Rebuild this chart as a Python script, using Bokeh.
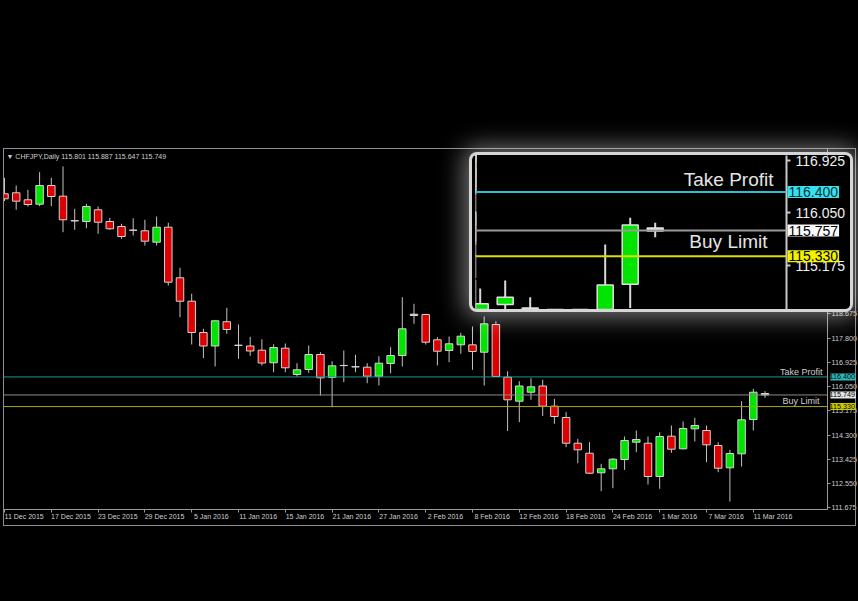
from bokeh.plotting import figure
from bokeh.models import (Range1d, FixedTicker, Span, Label, LinearAxis, Div,
                          ColumnDataSource, PrintfTickFormatter)
from bokeh.layouts import column
from bokeh.embed import file_html
from bokeh.resources import INLINE

# ---------------- data ----------------
symbol = "CHFJPY,Daily"
opens = [123.011, 123.047, 122.794, 122.635, 123.310, 122.924, 122.040, 122.011, 122.433, 122.011,
         121.830, 121.700, 121.675, 121.263, 121.805, 119.978, 119.133, 118.004, 117.516, 118.393,
         117.545, 117.516, 117.365, 116.910, 117.437, 116.487, 116.668, 117.209, 116.379, 116.815,
         116.768, 116.751, 116.426, 116.884, 117.173, 118.664, 118.653, 117.740, 117.354, 117.559,
         117.559, 117.292, 118.292, 116.390, 115.523, 115.848, 116.072, 115.343, 114.935, 114.007,
         113.646, 112.939, 113.083, 113.419, 114.043, 114.007, 112.805, 114.260, 113.805, 114.527,
         114.466, 113.924, 113.119, 113.624, 114.863, 115.801]
highs = [123.588, 123.310, 123.155, 123.791, 123.588, 123.996, 122.469, 122.650, 122.552, 122.144,
         121.928, 122.130, 122.072, 122.191, 121.964, 120.339, 119.401, 118.137, 118.437, 118.895,
         118.292, 117.848, 117.758, 117.578, 117.606, 116.895, 117.534, 117.292, 116.967, 117.354,
         117.198, 116.895, 117.148, 117.473, 119.278, 119.040, 118.679, 117.834, 117.859, 117.993,
         118.220, 118.581, 118.411, 116.606, 116.245, 116.354, 116.296, 115.610, 115.126, 114.166,
         114.043, 113.263, 113.470, 114.249, 114.466, 114.249, 114.404, 114.646, 114.791, 114.924,
         114.646, 114.043, 113.769, 115.523, 115.971, 115.887]
lows = [122.750, 122.433, 122.552, 122.563, 122.563, 121.624, 121.711, 121.769, 121.567, 121.711,
        121.386, 121.505, 121.144, 121.144, 119.700, 118.556, 117.570, 117.083, 116.776, 117.957,
        117.054, 117.162, 116.812, 116.570, 116.570, 116.415, 116.549, 115.729, 115.307, 116.209,
        116.570, 116.173, 116.090, 116.534, 116.776, 118.318, 117.570, 116.812, 116.931, 117.235,
        116.657, 116.090, 116.400, 114.448, 114.765, 115.574, 114.989, 114.707, 113.863, 113.285,
        112.895, 112.274, 112.383, 113.047, 113.682, 112.516, 112.361, 113.661, 113.780, 114.069,
        113.321, 112.960, 111.902, 113.166, 114.466, 115.647]
closes = [122.830, 122.744, 122.624, 123.310, 122.913, 122.072, 122.032, 122.552, 121.985, 121.747,
          121.469, 121.694, 121.300, 121.805, 119.819, 119.133, 118.004, 117.516, 118.426, 118.112,
          117.538, 117.336, 116.902, 117.462, 116.729, 116.657, 117.209, 116.368, 116.801, 116.809,
          116.762, 116.426, 116.895, 117.173, 118.137, 118.617, 117.653, 117.328, 117.596, 117.870,
          117.318, 118.318, 116.415, 115.574, 116.072, 116.043, 115.343, 114.971, 114.007, 113.769,
          112.924, 113.083, 113.430, 114.105, 114.141, 112.805, 114.249, 113.791, 114.538, 114.646,
          113.949, 113.105, 113.635, 114.852, 115.848, 115.749]

date_ticks = [0, 4, 8, 12, 16, 20, 24, 28, 32, 36, 40, 44, 48, 52, 56, 60, 64]
date_labels = ["11 Dec 2015", "17 Dec 2015", "23 Dec 2015", "29 Dec 2015", "5 Jan 2016",
               "11 Jan 2016", "15 Jan 2016", "21 Jan 2016", "27 Jan 2016", "2 Feb 2016",
               "8 Feb 2016", "12 Feb 2016", "18 Feb 2016", "24 Feb 2016", "1 Mar 2016",
               "7 Mar 2016", "11 Mar 2016"]
price_ticks = [111.675, 112.550, 113.425, 114.300, 115.175, 116.050, 116.925, 117.800, 118.675]
inset_ticks = [115.175, 116.050, 116.925]

take_profit = 116.400
buy_limit = 115.330
bid = 115.749
inset_bid = 115.757

# ---------------- styles ----------------
FONT = "Liberation Sans"
GREEN = "#00e400"
RED = "#dc0000"
DOJI = "#e6e6e6"
WICK = "#c4c4c4"
OUTLINE = "#d4d4d4"
AXIS = "#9a9a9a"
TXT = "#cfcfcf"
LABEL_SHIFT = 1.68   # date labels start at their tick (half a label width, in bars)


def body_color(o, c):
    if abs(c - o) < 0.055:
        return DOJI
    return GREEN if c > o else RED


idx = list(range(len(opens)))
src = ColumnDataSource(dict(
    x=idx, o=opens, h=highs, l=lows, c=closes,
    top=[max(o, c) for o, c in zip(opens, closes)],
    bottom=[min(o, c) for o, c in zip(opens, closes)],
    color=[body_color(o, c) for o, c in zip(opens, closes)],
))

# ---------------- main chart ----------------
X0, X1 = -0.0855, 70.342
p = figure(frame_width=824, frame_height=361,
           x_range=Range1d(X0, X1), y_range=Range1d(111.614, 124.646),
           x_axis_location=None, y_axis_location="right",
           toolbar_location=None, output_backend="svg",
           min_border_left=3, min_border_top=148, min_border_bottom=92, min_border_right=0,
           background_fill_color="black", border_fill_color="black",
           outline_line_color="#8c8c8c")
p.grid.visible = False

# date axis: labels centred half a label to the right of each tick; the tick marks
# themselves are drawn as minor ticks at the true bar positions
p.extra_x_ranges = {"lbl": Range1d(X0 - LABEL_SHIFT, X1 - LABEL_SHIFT)}
xl = LinearAxis(x_range_name="lbl",
                ticker=FixedTicker(ticks=date_ticks,
                                   minor_ticks=[t - LABEL_SHIFT for t in date_ticks]))
xl.major_label_overrides = {t: s for t, s in zip(date_ticks, date_labels)}
xl.major_label_text_font = FONT
xl.major_label_text_font_size = "7px"
xl.major_label_text_color = TXT
xl.major_label_standoff = 0
xl.major_tick_in = 0
xl.major_tick_out = 0
xl.major_tick_line_color = None
xl.minor_tick_in = 0
xl.minor_tick_out = 3
xl.minor_tick_line_color = AXIS
xl.axis_line_color = AXIS
p.add_layout(xl, "below")

ya = p.yaxis[0]
ya.ticker = FixedTicker(ticks=price_ticks)
ya.formatter = PrintfTickFormatter(format="%.3f")
ya.major_label_text_font = FONT
ya.major_label_text_font_size = "7.2px"
ya.major_label_text_color = TXT
ya.major_label_standoff = 1
ya.major_tick_in = 0
ya.major_tick_out = 3
ya.major_tick_line_color = AXIS
ya.minor_tick_line_color = None
ya.axis_line_color = AXIS

p.add_layout(Span(location=take_profit, dimension="width", line_color="#1b9696", line_width=1))
p.add_layout(Span(location=bid, dimension="width", line_color="#8a8a8a", line_width=1))
p.add_layout(Span(location=buy_limit, dimension="width", line_color="#a6a61c", line_width=1))

p.segment(x0="x", y0="l", x1="x", y1="h", source=src, line_color=WICK, line_width=1)
p.vbar(x="x", width=0.64, top="top", bottom="bottom", source=src,
       fill_color="color", line_color=OUTLINE, line_width=1)

p.add_layout(Label(x=822, y=371, x_units="canvas", y_units="canvas", text="Take Profit",
                   text_align="right", text_baseline="middle",
                   text_font=FONT, text_font_size="9px", text_color=TXT))
p.add_layout(Label(x=819, y=400, x_units="canvas", y_units="canvas", text="Buy Limit",
                   text_align="right", text_baseline="middle",
                   text_font=FONT, text_font_size="9px", text_color=TXT))

title_txt = f"\u25bc  {symbol}  {opens[-1]:.3f} {highs[-1]:.3f} {lows[-1]:.3f} {closes[-1]:.3f}"
p.add_layout(Label(x=6, y=155.5, x_units="canvas", y_units="canvas", text=title_txt,
                   text_align="left", text_baseline="middle",
                   text_font=FONT, text_font_size="7px", text_color=TXT))

# price tags over the main price scale (transparent overlay sharing the y range)
ps = figure(frame_width=31, frame_height=361, x_range=Range1d(0, 1), y_range=p.y_range,
            x_axis_location=None, y_axis_location=None,
            toolbar_location=None, output_backend="svg",
            min_border_left=0, min_border_top=148, min_border_bottom=0, min_border_right=0,
            background_fill_color=None, border_fill_color=None, outline_line_color=None)
ps.grid.visible = False
for val, bg in [(take_profit, "#2fb9b9"), (bid, "#e6e6e6"), (buy_limit, "#cccc00")]:
    ps.add_layout(Label(x=1, y=val, x_units="canvas", text=f"{val:.3f}",
                        text_align="left", text_baseline="middle",
                        text_font=FONT, text_font_size="7.2px", text_color="#000000",
                        background_fill_color=bg, padding=1))
ps.styles = {"position": "absolute", "left": "827px", "top": "0px"}

# outer window border
border = Div(text="", width=853, height=378, margin=0,
             styles={"position": "absolute", "left": "3px", "top": "148px",
                     "border": "1px solid #8c8c8c", "box-sizing": "border-box"})

# ---------------- inset (zoomed view) ----------------
iy = Range1d(114.442, 117.008)
pi = figure(frame_width=311, frame_height=154,
            x_range=Range1d(57.812, 70.252), y_range=iy,
            x_axis_location=None, y_axis_location="right",
            toolbar_location=None, output_backend="svg",
            min_border_left=0, min_border_top=0, min_border_bottom=0, min_border_right=67,
            background_fill_color="black", border_fill_color="black",
            outline_line_color=None)
pi.grid.visible = False
ia = pi.yaxis[0]
ia.ticker = FixedTicker(ticks=inset_ticks)
ia.formatter = PrintfTickFormatter(format="%.3f")
ia.major_label_text_font = FONT
ia.major_label_text_font_size = "14px"
ia.major_label_text_color = "#f0f0f0"
ia.major_label_standoff = 5
ia.major_tick_in = 0
ia.major_tick_out = 4
ia.major_tick_line_color = "#c8c8c8"
ia.major_tick_line_width = 2
ia.minor_tick_line_color = None
ia.axis_line_color = "#c8c8c8"
ia.axis_line_width = 2

pi.add_layout(Span(location=take_profit, dimension="width", line_color="#22c4d4", line_width=2))
pi.add_layout(Span(location=inset_bid, dimension="width", line_color="#9a9a9a", line_width=2))
pi.add_layout(Span(location=buy_limit, dimension="width", line_color="#dede00", line_width=2))

pi.segment(x0="x", y0="l", x1="x", y1="h", source=src, line_color="#d8d8d8", line_width=2)
pi.vbar(x="x", width=0.64, top="top", bottom="bottom", source=src,
        fill_color="color", line_color="#e0e0e0", line_width=1.5)

pi.add_layout(Label(x=301, y=23.5, x_units="canvas", y_units="canvas", text="Take Profit",
                    text_align="right", text_baseline="middle",
                    text_font=FONT, text_font_size="19px", text_color="#e4e4e4"))
pi.add_layout(Label(x=295, y=86, x_units="canvas", y_units="canvas", text="Buy Limit",
                    text_align="right", text_baseline="middle",
                    text_font=FONT, text_font_size="19px", text_color="#e4e4e4"))

pi.styles = {"position": "absolute", "left": "472px", "top": "155px",
             "border-radius": "5px", "overflow": "hidden",
             "box-shadow": "0 0 0 3px #d6d6d6, 0 0 24px 8px rgba(235,235,235,0.5)"}

# price tags over the inset price scale
pis = figure(frame_width=67, frame_height=154, x_range=Range1d(0, 1), y_range=iy,
             x_axis_location=None, y_axis_location=None,
             toolbar_location=None, output_backend="svg",
             min_border_left=0, min_border_top=0, min_border_bottom=0, min_border_right=0,
             background_fill_color=None, border_fill_color=None, outline_line_color=None)
pis.grid.visible = False
for val, bg, fg in [(take_profit, "#36e2ee", "#053238"), (inset_bid, "#fafafa", "#000000"),
                    (buy_limit, "#f2f200", "#000000")]:
    pis.add_layout(Label(x=4, y=val, x_units="canvas", text=f"{val:.3f}",
                         text_align="left", text_baseline="middle",
                         text_font=FONT, text_font_size="14px", text_color=fg,
                         background_fill_color=bg, padding=1))
pis.styles = {"position": "absolute", "left": "783px", "top": "155px"}

layout = column(p, border, ps, pi, pis, styles={"background": "#000"})

open("out.html", "w").write(file_html(layout, INLINE))
